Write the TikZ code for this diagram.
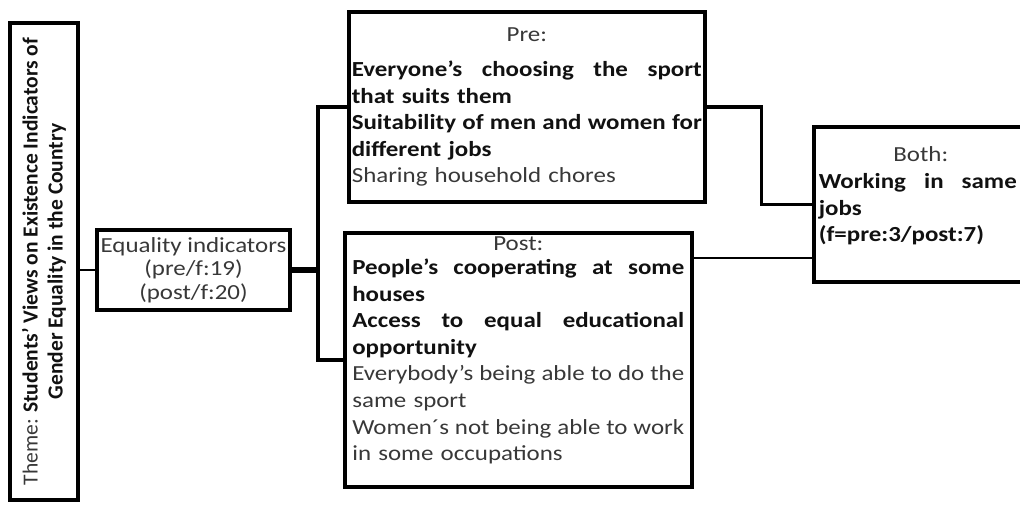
\documentclass[tikz,border=0pt]{standalone}
\usepackage{fontspec}
\setmainfont{Carlito}[FakeStretch=1.16]
\newfontfamily\themefont{Carlito}
\usepackage{tikz}
\usetikzlibrary{positioning,calc}
\definecolor{softink}{HTML}{383838}
\definecolor{darkink}{HTML}{111111}
\newcommand{\bld}[1]{\textbf{\color{darkink}#1}}
\newcommand{\fullline}[2][\linewidth]{\leavevmode\hbox to#1{\spaceskip=0.25em plus 1fil\relax #2}\\}

\begin{document}
\begin{tikzpicture}[x=0.5pt,y=-0.5pt,
  box/.style={draw,line width=1.8pt,inner sep=0pt,anchor=north west,align=left,
    text=softink,font=\fontsize{10.75}{13.3}\selectfont},
  link/.style={line width=1.8pt},
  thinlink/.style={line width=1.4pt},
  heavylink/.style={line width=2.8pt}]
\useasboundingbox (0,0) rectangle (1020,509);
\node[draw,line width=1.6pt,rotate=90,minimum width=238.5pt,minimum height=34pt,inner sep=0pt,
  align=center,text=softink,font=\themefont\fontsize{10.75}{12.5}\selectfont] (theme) at (44,261.5)
  {Theme: \bld{Students’ Views on Existence Indicators of}\\\bld{Gender Equality in the Country}};
\node[draw,line width=1.8pt,minimum width=96.5pt,minimum height=40pt,inner sep=0pt,align=center,
  text=softink,font=\fontsize{10.75}{11.75}\selectfont] (eq) at (193.5,270)
  {Equality indicators\\(pre/f:19)\\(post/f:20)};
\node[box,text width=175pt,inner xsep=1.5pt,text height=15pt,text depth=80pt] (pre) at (347,10)
  {\makebox[\linewidth]{Pre:}\\[4pt]
   \fullline{\bld{Everyone’s choosing the sport}}
   \bld{that suits them}\\
   \fullline{\bld{Suitability of men and women for}}
   \bld{different jobs}\\
   Sharing household chores};
\node[box,text width=166pt,inner xsep=3.75pt,text height=9pt,text depth=118pt] (post) at (343,231)
  {\makebox[\linewidth]{Post:}\\[-1.5pt]
   \fullline{\bld{People’s cooperating at some}}
   \bld{houses}\\
   \fullline{\bld{Access to equal educational}}
   \bld{opportunity}\\
   \fullline{Everybody’s being able to do the}
   same sport\\
   \fullline{Women´s not being able to work}
   in some occupations};
\node[box,text width=104pt,inner xsep=2.5pt,text height=17.5pt,text depth=60pt] (both) at (812,125)
  {\makebox[\linewidth]{Both:\hspace*{2pt}}\\
   \fullline[99pt]{\bld{Working in same}}
   \bld{jobs}\\
   \bld{(f=pre:3/post:7)}};
% links
\coordinate (fork) at (318,270);
\coordinate (postport) at ([yshift=-13.5pt]post.north east);
\draw[thinlink] (theme.south |- eq.west) -- (eq.west);
\draw[heavylink] (eq.east) -- (fork);
\draw[link] (pre.west) -| (fork) |- (post.west);
\draw[link] (pre.east) -- ++(55,0) |- (both.west);
\draw[thinlink] (postport) -- (postport -| both.west);
\end{tikzpicture}
\end{document}
